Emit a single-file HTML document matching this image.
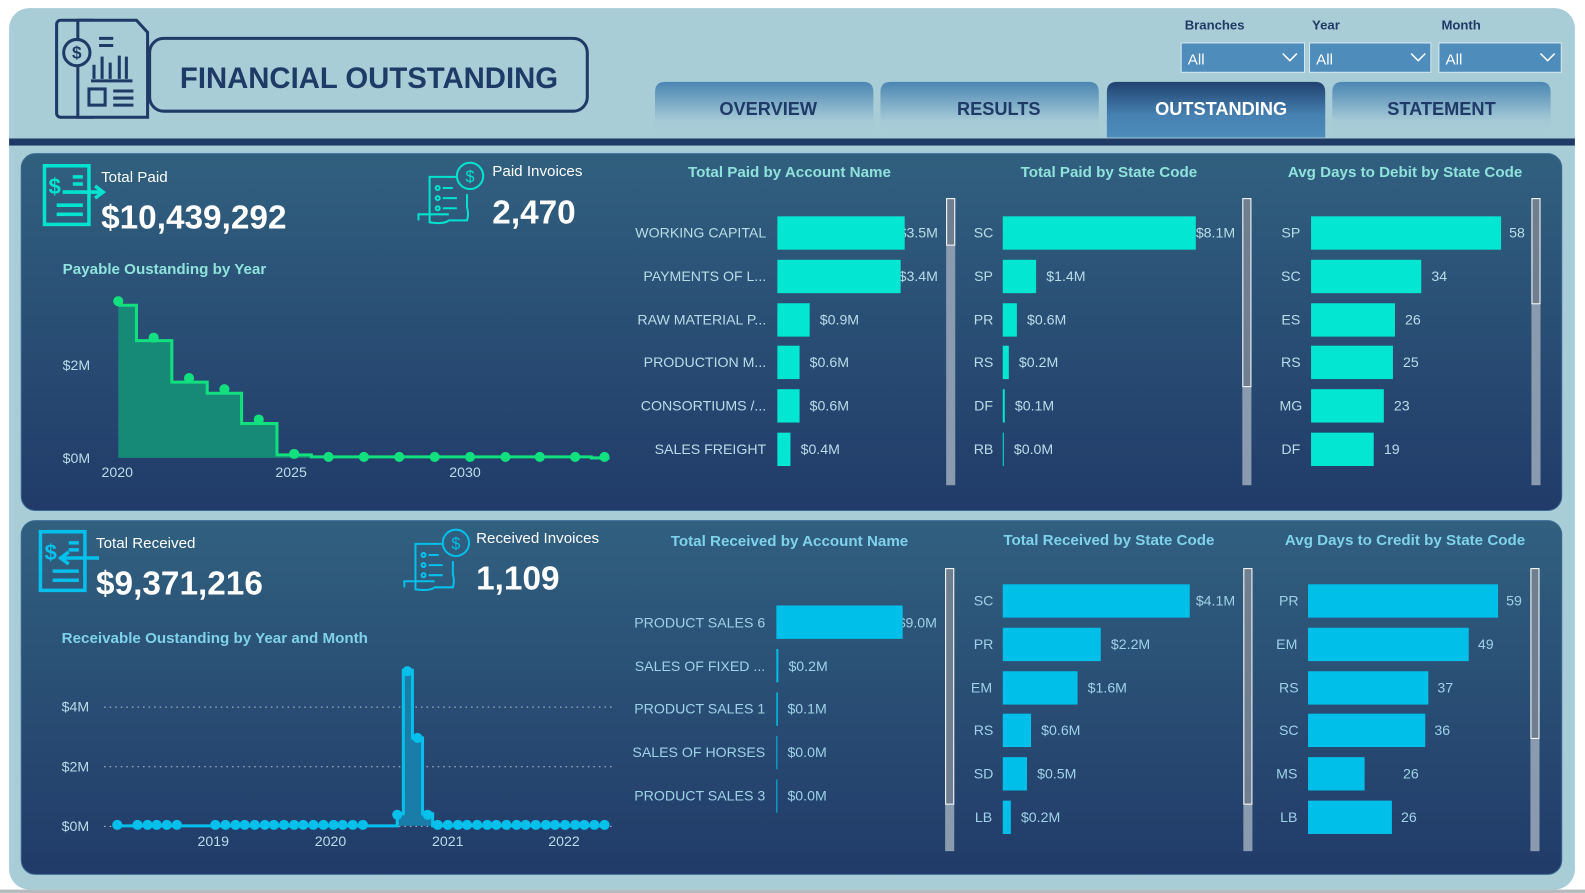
<!DOCTYPE html>
<html><head><meta charset="utf-8"><style>
html,body{margin:0;padding:0;background:#fff;}
svg{display:block;font-family:"Liberation Sans",sans-serif;}
</style></head><body>
<svg width="1585" height="893" viewBox="0 0 1568 883.4" preserveAspectRatio="none" xmlns="http://www.w3.org/2000/svg">
<defs>
<linearGradient id="pg" x1="0" y1="0" x2="0" y2="1"><stop offset="0" stop-color="#31607f"/><stop offset="1" stop-color="#213b69"/></linearGradient>
<linearGradient id="tab" x1="0" y1="0" x2="0" y2="1"><stop offset="0" stop-color="#4b86b2"/><stop offset="0.7" stop-color="#a5cad6"/><stop offset="1" stop-color="#a8cdd6"/></linearGradient>
<linearGradient id="tabA" x1="0" y1="0" x2="0" y2="1"><stop offset="0" stop-color="#21426f"/><stop offset="0.6" stop-color="#4681b2"/><stop offset="1" stop-color="#4d8cbb"/></linearGradient>
</defs>
<rect x="0" y="0" width="1568" height="884" fill="#fff"/>
<rect x="0" y="880" width="1568" height="4" fill="#b4bcc0"/>
<rect x="9" y="8" width="1549" height="872" rx="20" fill="#a8cdd6"/>
<rect x="9" y="137" width="1549" height="7" fill="#1f3a66"/>
<rect x="148" y="38" width="433" height="72" rx="14" fill="none" stroke="#1f3a66" stroke-width="3"/>
<text x="178" y="87" font-size="29" font-weight="bold" fill="#1f3a66">FINANCIAL OUTSTANDING</text>
<g fill="none" stroke="#1f3a66" stroke-width="3">
<rect x="56" y="20" width="40" height="96" rx="4" fill="#a8cdd6"/>
<path d="M77 20 H135 L146 32 V116 H77 Z" fill="#a8cdd6"/>
<circle cx="76" cy="52" r="13" fill="#a8cdd6"/>
<path d="M90 80 H131 M93 78 V64 M101 78 V56 M109 78 V62 M118 78 V55 M125 78 V56"/>
<rect x="88" y="88" width="16" height="16"/>
<path d="M112 90 H132 M112 97 H132 M112 104 H132 M98 38 H112 M98 45 H112"/>
</g>
<text x="76" y="58" font-size="17" font-weight="bold" fill="#1f3a66" text-anchor="middle">$</text>
<g font-size="13" font-weight="bold" fill="#1f3a66"><text x="1172" y="29">Branches</text><text x="1298" y="29">Year</text><text x="1426" y="29">Month</text></g>
<g fill="#4d8cbb" stroke="#d6e8ef" stroke-width="1">
<rect x="1168.5" y="42.5" width="122" height="29"/><rect x="1295.5" y="42.5" width="120" height="29"/><rect x="1423.5" y="42.5" width="121" height="29"/></g>
<g font-size="15" fill="#fff"><text x="1175" y="64">All</text><text x="1302" y="64">All</text><text x="1430" y="64">All</text></g>
<g fill="none" stroke="#fff" stroke-width="1.5"><path d="M1269 53 l7 7 l7 -7"/><path d="M1396 53 l7 7 l7 -7"/><path d="M1524 53 l7 7 l7 -7"/></g>
<path d="M648 136 V91 Q648 81 658 81 H854 Q864 81 864 91 V136 Z" fill="url(#tab)"/>
<path d="M871 136 V91 Q871 81 881 81 H1077 Q1087 81 1087 91 V136 Z" fill="url(#tab)"/>
<path d="M1095 136 V91 Q1095 81 1105 81 H1301 Q1311 81 1311 91 V136 Z" fill="url(#tabA)"/>
<path d="M1318 136 V91 Q1318 81 1328 81 H1524 Q1534 81 1534 91 V136 Z" fill="url(#tab)"/>
<g font-size="18" font-weight="bold" text-anchor="middle"><text x="760" y="114" fill="#1f3a66">OVERVIEW</text><text x="988" y="114" fill="#1f3a66">RESULTS</text><text x="1208" y="114" fill="#fff">OUTSTANDING</text><text x="1426" y="114" fill="#1f3a66">STATEMENT</text></g>
<rect x="21" y="152" width="1524" height="353" rx="14" fill="url(#pg)" stroke="#3a6a94" stroke-width="1"/>
<rect x="21" y="515" width="1524" height="350" rx="14" fill="url(#pg)" stroke="#3a6a94" stroke-width="1"/>

<g fill="none" stroke="#02e3cf" stroke-width="3.5">
<rect x="44" y="164" width="44" height="58"/>
<path d="M72 175 H82 M72 182 H82 M56 203 H82 M56 212 H82 M62 190 H100 M94 184 L102 190 L94 196"/>
</g>
<text x="48" y="192" font-size="22" font-weight="bold" fill="#02e3cf">$</text>
<text x="100" y="180" font-size="15" fill="#fff">Total Paid</text>
<text x="100" y="226" font-size="33" font-weight="bold" fill="#fff">$10,439,292</text>
<g fill="none" stroke="#02e3cf" stroke-width="2">
<path d="M424 175 H452 M425 175 V220 Q440 222 444 218 H462 Q464 212 462 205 V192 M414 218 V212 H444"/>
<circle cx="465" cy="174" r="13"/>
<circle cx="433" cy="186" r="2"/><circle cx="433" cy="196" r="2"/><circle cx="433" cy="206" r="2"/>
<path d="M438 186 H448 M438 196 H452 M438 206 H452"/>
</g>
<text x="465" y="180" font-size="16" fill="#02e3cf" text-anchor="middle">$</text>
<text x="487" y="174" font-size="15" fill="#fff">Paid Invoices</text>
<text x="487" y="221" font-size="33" font-weight="bold" fill="#fff">2,470</text>
<text x="62" y="271" font-size="15" font-weight="bold" fill="#8fe3dc">Payable Oustanding by Year</text>
<g font-size="14" fill="#b9dde8"><text x="62" y="366">$2M</text><text x="62" y="458">$0M</text>
<text x="116" y="472" text-anchor="middle">2020</text><text x="288" y="472" text-anchor="middle">2025</text><text x="460" y="472" text-anchor="middle">2030</text></g>
<path d="M117 453 V302 H135 V337 H170 V378 H205 V389 H239 V419 H274 V450 H308 V452 H603 V453 Z" fill="#168a76"/>
<path d="M117 302 H135 V337 H170 V378 H205 V389 H239 V419 H274 V450 H308 V452 H585 V453 H603" fill="none" stroke="#12e07e" stroke-width="3"/>
<g fill="#12e07e"><circle cx="117" cy="298" r="5"/><circle cx="152" cy="334" r="5"/><circle cx="187" cy="374" r="5"/><circle cx="222" cy="385" r="5"/><circle cx="256" cy="415" r="5"/><circle cx="291" cy="449" r="5"/><circle cx="325" cy="452" r="5"/><circle cx="360" cy="452" r="5"/><circle cx="395" cy="452" r="5"/><circle cx="430" cy="452" r="5"/><circle cx="465" cy="452" r="5"/><circle cx="500" cy="452" r="5"/><circle cx="534" cy="452" r="5"/><circle cx="569" cy="452" r="5"/><circle cx="598" cy="452" r="5"/></g>

<g font-size="15" font-weight="bold" fill="#8fe3dc" text-anchor="middle"><text x="781" y="175">Total Paid by Account Name</text><text x="1097" y="175">Total Paid by State Code</text><text x="1390" y="175">Avg Days to Debit by State Code</text></g>
<g font-size="14" fill="#b9dde8">
<g text-anchor="end"><text x="758" y="235">WORKING CAPITAL</text><text x="758" y="278">PAYMENTS OF L...</text><text x="758" y="321">RAW MATERIAL P...</text><text x="758" y="363">PRODUCTION M...</text><text x="758" y="406">CONSORTIUMS /...</text><text x="758" y="449">SALES FREIGHT</text></g>
<text x="889" y="235">$3.5M</text><text x="889" y="278">$3.4M</text><text x="811" y="321">$0.9M</text><text x="801" y="363">$0.6M</text><text x="801" y="406">$0.6M</text><text x="792" y="449">$0.4M</text>
<g text-anchor="middle"><text x="973" y="235">SC</text><text x="973" y="278">SP</text><text x="973" y="321">PR</text><text x="973" y="363">RS</text><text x="973" y="406">DF</text><text x="973" y="449">RB</text></g>
<text x="1183" y="235">$8.1M</text><text x="1035" y="278">$1.4M</text><text x="1016" y="321">$0.6M</text><text x="1008" y="363">$0.2M</text><text x="1004" y="406">$0.1M</text><text x="1003" y="449">$0.0M</text>
<g text-anchor="middle"><text x="1277" y="235">SP</text><text x="1277" y="278">SC</text><text x="1277" y="321">ES</text><text x="1277" y="363">RS</text><text x="1277" y="406">MG</text><text x="1277" y="449">DF</text></g>
<text x="1493" y="235">58</text><text x="1416" y="278">34</text><text x="1390" y="321">26</text><text x="1388" y="363">25</text><text x="1379" y="406">23</text><text x="1369" y="449">19</text>
</g>
<g fill="#02e6d2">
<rect x="769" y="214" width="126" height="33"/><rect x="769" y="257" width="122" height="33"/><rect x="769" y="300" width="32" height="33"/><rect x="769" y="342" width="22" height="33"/><rect x="769" y="385" width="22" height="33"/><rect x="769" y="428" width="13" height="33"/>
<rect x="992" y="214" width="191" height="33"/><rect x="992" y="257" width="33" height="33"/><rect x="992" y="300" width="14" height="33"/><rect x="992" y="342" width="6" height="33"/><rect x="992" y="385" width="2" height="33"/><rect x="992" y="428" width="1" height="33"/>
<rect x="1297" y="214" width="188" height="33"/><rect x="1297" y="257" width="109" height="33"/><rect x="1297" y="300" width="83" height="33"/><rect x="1297" y="342" width="81" height="33"/><rect x="1297" y="385" width="72" height="33"/><rect x="1297" y="428" width="62" height="33"/>
</g>
<g>
<rect x="936" y="196" width="9" height="284" fill="#8a9bb0"/><rect x="936.5" y="196.5" width="8" height="46" fill="#6f7f8f" stroke="#fff"/>
<rect x="1229" y="196" width="9" height="284" fill="#8a9bb0"/><rect x="1229.5" y="196.5" width="8" height="186" fill="#6f7f8f" stroke="#fff"/>
<rect x="1515" y="196" width="9" height="284" fill="#8a9bb0"/><rect x="1515.5" y="196.5" width="8" height="104" fill="#6f7f8f" stroke="#fff"/>
</g>

<g fill="none" stroke="#04c0ea" stroke-width="3.5">
<rect x="40" y="526" width="44" height="58"/>
<path d="M68 537 H78 M68 544 H78 M52 565 H78 M52 574 H78 M60 552 H98 M68 546 L60 552 L68 558"/>
</g>
<text x="44" y="554" font-size="22" font-weight="bold" fill="#04c0ea">$</text>
<text x="95" y="542" font-size="15" fill="#fff">Total Received</text>
<text x="95" y="588" font-size="33" font-weight="bold" fill="#fff">$9,371,216</text>
<g fill="none" stroke="#04c0ea" stroke-width="2">
<path d="M410 538 H438 M411 538 V583 Q426 585 430 581 H448 Q450 575 448 568 V555 M400 581 V575 H430"/>
<circle cx="451" cy="537" r="13"/>
<circle cx="419" cy="549" r="2"/><circle cx="419" cy="559" r="2"/><circle cx="419" cy="569" r="2"/>
<path d="M424 549 H434 M424 559 H438 M424 569 H438"/>
</g>
<text x="451" y="543" font-size="16" fill="#04c0ea" text-anchor="middle">$</text>
<text x="471" y="537" font-size="15" fill="#fff">Received Invoices</text>
<text x="471" y="583" font-size="33" font-weight="bold" fill="#fff">1,109</text>
<text x="61" y="636" font-size="15" font-weight="bold" fill="#7fd2ec">Receivable Oustanding by Year and Month</text>
<g font-size="14" fill="#b9dde8"><text x="61" y="704">$4M</text><text x="61" y="763">$2M</text><text x="61" y="822">$0M</text>
<g text-anchor="middle"><text x="211" y="837">2019</text><text x="327" y="837">2020</text><text x="443" y="837">2021</text><text x="558" y="837">2022</text></g></g>
<g stroke="#b9c8d4" stroke-width="1" stroke-dasharray="1.5 4"><path d="M103 699.5 H605 M103 758.5 H605 M103 817.5 H605"/></g>
<path d="M393 817 V805 H399 V663 H408 V730 H418 V805 H428 V817 Z" fill="#1a7ca8"/>
<path d="M112 817 H393 V805 H399 V663 H408 V730 H418 V805 H428 V817 H602" fill="none" stroke="#04c0ea" stroke-width="3"/>
<g fill="#04c0ea">
<circle cx="116" cy="816" r="5"/><circle cx="136" cy="816" r="5"/><circle cx="146" cy="816" r="5"/><circle cx="155" cy="816" r="5"/><circle cx="165" cy="816" r="5"/><circle cx="175" cy="816" r="5"/>
<circle cx="213" cy="816" r="5"/><circle cx="223" cy="816" r="5"/><circle cx="233" cy="816" r="5"/><circle cx="242" cy="816" r="5"/><circle cx="252" cy="816" r="5"/><circle cx="262" cy="816" r="5"/><circle cx="271" cy="816" r="5"/><circle cx="281" cy="816" r="5"/><circle cx="291" cy="816" r="5"/><circle cx="300" cy="816" r="5"/><circle cx="310" cy="816" r="5"/><circle cx="320" cy="816" r="5"/><circle cx="330" cy="816" r="5"/><circle cx="339" cy="816" r="5"/><circle cx="349" cy="816" r="5"/><circle cx="359" cy="816" r="5"/>
<circle cx="393" cy="806" r="5"/><circle cx="403" cy="664" r="5"/><circle cx="413" cy="730" r="5"/><circle cx="423" cy="806" r="5"/>
<circle cx="433" cy="816" r="5"/><circle cx="443" cy="816" r="5"/><circle cx="453" cy="816" r="5"/><circle cx="462" cy="816" r="5"/><circle cx="472" cy="816" r="5"/><circle cx="482" cy="816" r="5"/><circle cx="491" cy="816" r="5"/><circle cx="501" cy="816" r="5"/><circle cx="511" cy="816" r="5"/><circle cx="520" cy="816" r="5"/><circle cx="530" cy="816" r="5"/><circle cx="540" cy="816" r="5"/><circle cx="549" cy="816" r="5"/><circle cx="559" cy="816" r="5"/><circle cx="569" cy="816" r="5"/><circle cx="578" cy="816" r="5"/><circle cx="588" cy="816" r="5"/><circle cx="598" cy="816" r="5"/>
</g>

<g font-size="15" font-weight="bold" fill="#7fd2ec" text-anchor="middle"><text x="781" y="540">Total Received by Account Name</text><text x="1097" y="539">Total Received by State Code</text><text x="1390" y="539">Avg Days to Credit by State Code</text></g>
<g font-size="14" fill="#9fd2e6">
<g text-anchor="end"><text x="757" y="621">PRODUCT SALES 6</text><text x="757" y="664">SALES OF FIXED ...</text><text x="757" y="706">PRODUCT SALES 1</text><text x="757" y="749">SALES OF HORSES</text><text x="757" y="792">PRODUCT SALES 3</text></g>
<text x="888" y="621">$9.0M</text><text x="780" y="664">$0.2M</text><text x="779" y="706">$0.1M</text><text x="779" y="749">$0.0M</text><text x="779" y="792">$0.0M</text>
<g text-anchor="middle"><text x="973" y="599">SC</text><text x="973" y="642">PR</text><text x="971" y="685">EM</text><text x="973" y="727">RS</text><text x="973" y="770">SD</text><text x="973" y="813">LB</text></g>
<text x="1183" y="599">$4.1M</text><text x="1099" y="642">$2.2M</text><text x="1076" y="685">$1.6M</text><text x="1030" y="727">$0.6M</text><text x="1026" y="770">$0.5M</text><text x="1010" y="813">$0.2M</text>
<g text-anchor="middle"><text x="1275" y="599">PR</text><text x="1273" y="642">EM</text><text x="1275" y="685">RS</text><text x="1275" y="727">SC</text><text x="1273" y="770">MS</text><text x="1275" y="813">LB</text></g>
<text x="1490" y="599">59</text><text x="1462" y="642">49</text><text x="1422" y="685">37</text><text x="1419" y="727">36</text><text x="1388" y="770">26</text><text x="1386" y="813">26</text>
</g>
<g fill="#00bfe9">
<rect x="768" y="599" width="125" height="33"/><rect x="768" y="642" width="2" height="33"/><rect x="768" y="685" width="1.5" height="33"/><rect x="768" y="728" width="1" height="33"/><rect x="768" y="771" width="1" height="33"/>
<rect x="992" y="578" width="185" height="33"/><rect x="992" y="621" width="97" height="33"/><rect x="992" y="664" width="74" height="33"/><rect x="992" y="706" width="28" height="33"/><rect x="992" y="749" width="24" height="33"/><rect x="992" y="792" width="8" height="33"/>
<rect x="1294" y="578" width="188" height="33"/><rect x="1294" y="621" width="159" height="33"/><rect x="1294" y="664" width="119" height="33"/><rect x="1294" y="706" width="116" height="33"/><rect x="1294" y="749" width="56" height="33"/><rect x="1294" y="792" width="83" height="33"/>
</g>
<g>
<rect x="935" y="562" width="9" height="280" fill="#8a9bb0"/><rect x="935.5" y="562.5" width="8" height="233" fill="#6f7f8f" stroke="#fff"/>
<rect x="1230" y="562" width="9" height="280" fill="#8a9bb0"/><rect x="1230.5" y="562.5" width="8" height="233" fill="#6f7f8f" stroke="#fff"/>
<rect x="1514" y="562" width="9" height="280" fill="#8a9bb0"/><rect x="1514.5" y="562.5" width="8" height="168" fill="#6f7f8f" stroke="#fff"/>
</g>
</svg>
</body></html>
